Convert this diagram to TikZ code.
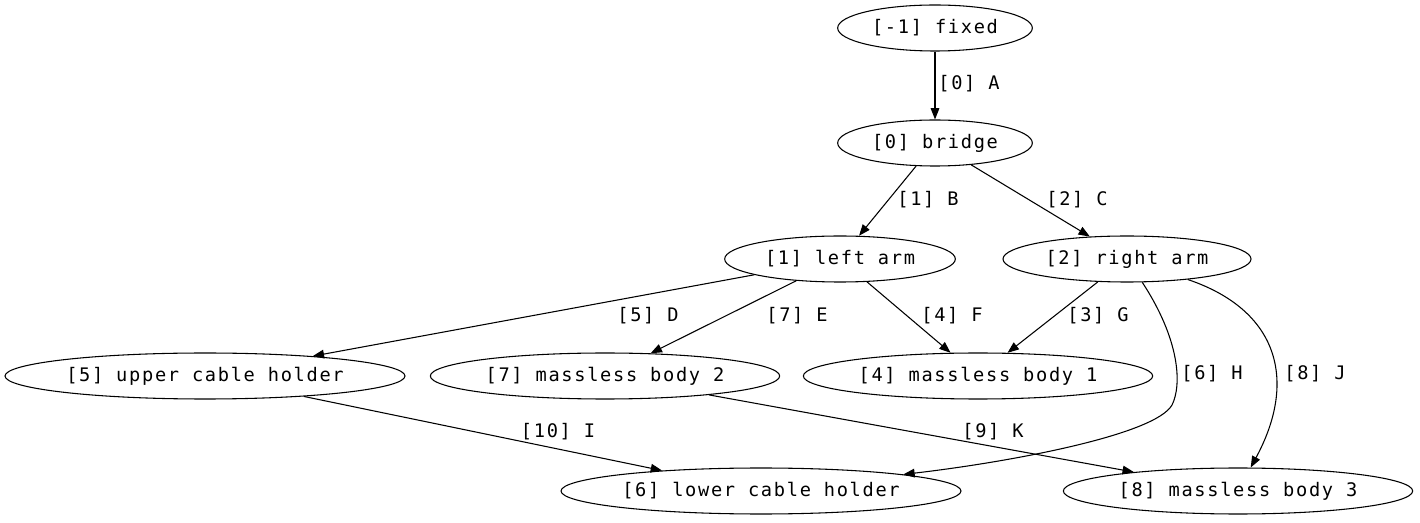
\documentclass[tikz,border=0pt]{standalone}
\usepackage{fontspec}
\newfontfamily\gvfont[LetterSpace=9]{DejaVu Sans Mono}
\usetikzlibrary{shapes.geometric, arrows.meta}

\begin{document}
\begin{tikzpicture}[x=0.75pt, y=-0.75pt, >={Triangle[length=8.5pt,width=6.5pt]},
    body/.style={draw, ellipse, line width=0.8pt, inner sep=0pt, minimum height=34.5pt, font=\gvfont\fontsize{14}{16}\selectfont},
    joint/.style={font=\gvfont\fontsize{14}{16}\selectfont, inner sep=0pt},
    link/.style={->, line width=0.8pt}]
\useasboundingbox (0,0) rectangle (1420,523);

\node[body, minimum width=146pt] (fixed) at (935,28) {[-1] fixed};
\node[body, minimum width=146pt] (bridge) at (935,143) {[0] bridge};
\node[body, minimum width=173pt] (larm) at (840,259) {[1] left arm};
\node[body, minimum width=186pt] (rarm) at (1127,259) {[2] right arm};
\node[body, minimum width=300pt] (uch) at (205,376) {[5] upper cable holder};
\node[body, minimum width=262pt] (mbtwo) at (605,376) {[7] massless body 2};
\node[body, minimum width=262pt] (mbone) at (978,376) {[4] massless body 1};
\node[body, minimum width=300pt] (lch) at (761,491) {[6] lower cable holder};
\node[body, minimum width=262pt] (mbthree) at (1238,491) {[8] massless body 3};

% joints
\draw[link] (fixed) -- (bridge);
\draw[link] (bridge) -- (larm);
\draw[link] (bridge) -- (rarm);
\draw[link] (larm) -- (uch);
\draw[link] (larm) -- (mbtwo);
\draw[link] (larm) -- (mbone);
\draw[link] (rarm) -- (mbone);
\draw[link] (rarm) .. controls (1180,340) and (1182,385) .. (1172,405)
    .. controls (1155,435) and (1010,462) .. (lch);
\draw[link] (rarm) .. controls (1278,310) and (1298,380) .. (mbthree);
\draw[link] (uch) -- (lch);
\draw[link] (mbtwo) -- (mbthree);

\node[joint] (jA) at (969,84) {[0] A};
\node[joint] (jB) at (928,200) {[1] B};
\node[joint] (jC) at (1077,200) {[2] C};
\node[joint] (jD) at (648,316) {[5] D};
\node[joint] (jE) at (797,316) {[7] E};
\node[joint] (jF) at (952,316) {[4] F};
\node[joint] (jG) at (1098,316) {[3] G};
\node[joint] (jH) at (1212,374) {[6] H};
\node[joint] (jJ) at (1315,374) {[8] J};
\node[joint] (jI) at (558,432) {[10] I};
\node[joint] (jK) at (993,432) {[9] K};

\end{tikzpicture}
\end{document}
